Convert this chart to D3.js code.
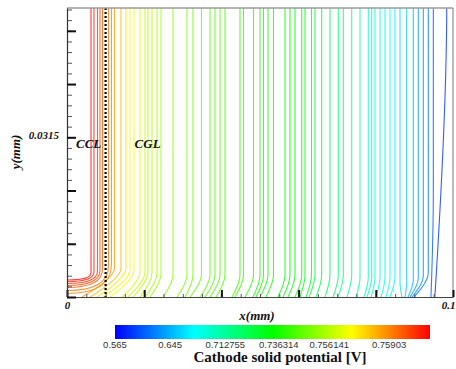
<!DOCTYPE html>
<html><head><meta charset="utf-8">
<script src="https://cdn.jsdelivr.net/npm/d3@7"></script>
<style>body{margin:0;background:#fff}svg{display:block}</style>
</head><body><svg id="c" width="456" height="369"></svg>
<script>
// ---------- data ----------
const xMajorTicks = [0, 0.02, 0.04, 0.06, 0.08, 0.1];
const xTickLabels = ["0", "", "", "", "", "0.1"];
const yMajorTicks = [0, 0.0105, 0.021, 0.0315, 0.042, 0.0525];
const yTickLabels = ["", "", "", "0.0315", "", ""];
const layerBoundary = 0.01;
const layerNames = ["CCL", "CGL"];
const legendValues = [0.565, 0.645, 0.712755, 0.736314, 0.756141, 0.75903];
const legendTitle = "Cathode solid potential [V]";
const xTitle = "x(mm)";
const yTitle = "y(mm)";

// contour lines: x at top (mm), level (V), foot x (mm), foot y (mm), bend height (mm)
const lineX = [0.00622,0.00699,0.00790,0.00855,0.00920,0.01075,0.01153,0.01231,0.01399,0.01528,
  0.01632,0.01736,0.01891,0.02021,0.02098,0.02202,0.02332,0.02435,0.02746,0.03109,
  0.03264,0.03484,0.03705,0.03834,0.03964,0.04093,0.04482,0.04573,0.04832,0.05000,
  0.05091,0.05207,0.05350,0.05648,0.05777,0.05907,0.06080,0.06166,0.06334,0.06425,
  0.06598,0.06813,0.07028,0.07158,0.07376,0.07591,0.07806,0.07894,0.07979,0.08109,
  0.08238,0.08368,0.08497,0.08627,0.08801,0.08972,0.09101,0.09231,0.09360,0.09490,0.09837];
const lineLevel = [0.76101,0.76055,0.76025,0.75994,0.75964,0.75933,0.75903,0.75873,0.75827,0.75766,
  0.75736,0.75705,0.75660,0.75629,0.75614,0.75490,0.75366,0.75242,0.74995,0.74871,
  0.74747,0.74623,0.74499,0.74375,0.74313,0.74251,0.74065,0.74003,0.73879,0.73755,
  0.73693,0.73631,0.73562,0.73493,0.73424,0.73354,0.73216,0.73077,0.72939,0.72661,
  0.72384,0.72107,0.71830,0.71691,0.71414,0.70888,0.70114,0.69727,0.69340,0.68565,
  0.68178,0.67404,0.67017,0.66242,0.65468,0.64694,0.63814,0.62900,0.61986,0.60614,0.58786];
const footX = [0,0,0,0,0,0,0,0.00389,0.00596,0.00777,
  0.00933,0.01114,0.01425,0.01580,0.01710,0.01891,0.02021,0.02150,0.02487,0.02850,
  0.03057,0.03187,0.03446,0.03575,0.03705,0.03860,0.04275,0.04352,0.04611,0.04819,
  0.04896,0.05000,0.05155,0.05466,0.05596,0.05725,0.05907,0.06036,0.06192,0.06269,
  0.06451,0.06684,0.06891,0.07021,0.07254,0.07487,0.07694,0.07772,0.07876,0.08005,
  0.08135,0.08264,0.08368,0.08679,0.08756,0.08834,0.08886,0.08938,0.08990,0.09430,0.09530];
const footY = [0.00335,0.00302,0.00266,0.00227,0.00187,0.00128,0.00069,0,0,0,
  0,0,0,0,0,0,0,0,0,0, 0,0,0,0,0,0,0,0,0,0, 0,0,0,0,0,0,0,0,0,0,
  0,0,0,0,0,0,0,0,0,0, 0,0,0,0,0,0,0,0,0,0,0];
const bendY = [0.00473,0.00493,0.00513,0.00533,0.00552,0.00611,0.00651,0.00572,0.00572,0.00572,
  0.00533,0.00533,0.00493,0.00493,0.00493,0.00473,0.00473,0.00454,0.00434,0.00434,
  0.00434,0.00434,0.00434,0.00434,0.00434,0.00434,0.00434,0.00434,0.00434,0.00434,
  0.00434,0.00434,0.00434,0.00434,0.00434,0.00434,0.00434,0.00434,0.00434,0.00434,
  0.00434,0.00434,0.00434,0.00434,0.00434,0.00394,0.00394,0.00394,0.00394,0.00394,
  0.00394,0.00394,0.00394,0.00296,0.00296,0.00335,0.00375,0.00414,0.00473,0.02000,0.05700];

// ---------- layout ----------
const L = 67, R = 453, T = 8, B = 297;
const xMax = 0.1, yMax = 0.057;
const svg = d3.select("#c");
const x = d3.scaleLinear().domain([0, xMax]).range([L, R]);
const y = d3.scaleLinear().domain([0, yMax]).range([B, T]);

const tStops = [0, 0.175, 0.35, 0.52, 0.68, 0.87];
const levelToT = d3.scaleLinear().domain(legendValues).range(tStops);
const rainbow = d3.scaleLinear().domain([0, 0.25, 0.5, 0.75, 1])
  .range(["#0000ff", "#00ffff", "#00ff00", "#ffff00", "#ff0000"]);
const colorOf = v => rainbow(Math.max(0, Math.min(1, levelToT(v))));

const serif = "'Liberation Serif','Times New Roman',serif";
const defs = svg.append("defs");
defs.append("clipPath").attr("id", "plotclip")
  .append("rect").attr("x", L).attr("y", T).attr("width", R - L).attr("height", B - T);

// contour lines
const g = svg.append("g").attr("clip-path", "url(#plotclip)");
g.selectAll("path.cl").data(d3.range(lineX.length)).join("path")
  .attr("class", "cl")
  .attr("fill", "none")
  .attr("stroke", i => colorOf(lineLevel[i]))
  .attr("stroke-width", 1.1)
  .attr("stroke-opacity", 0.8)
  .attr("d", i => {
    const x0 = x(lineX[i]), yt = y(yMax), yb = y(bendY[i]);
    const fx = x(footX[i]), fy = y(footY[i]);
    const p = d3.path();
    p.moveTo(x0, yt);
    p.lineTo(x0, yb);
    if (footX[i] === 0) p.quadraticCurveTo(x0, fy, fx, fy);
    else p.quadraticCurveTo(x0, yb + 0.35 * (fy - yb), fx, fy);
    return p.toString();
  });

// layer boundary (dotted)
svg.append("line")
  .attr("x1", x(layerBoundary)).attr("x2", x(layerBoundary))
  .attr("y1", y(yMax)).attr("y2", y(0))
  .attr("stroke", "#000").attr("stroke-width", 2.2).attr("stroke-dasharray", "2,2");

// frame
svg.append("line").attr("x1", L).attr("x2", R).attr("y1", T).attr("y2", T)
  .attr("stroke", "#9a9a9a").attr("stroke-width", 1.6);
svg.append("line").attr("x1", R).attr("x2", R).attr("y1", T).attr("y2", B)
  .attr("stroke", "#777").attr("stroke-width", 1);

// x axis
const xMinor = d3.range(0, xMax + 1e-9, 0.005);
svg.append("g").attr("transform", `translate(0,${B})`)
  .call(d3.axisBottom(x).tickValues(xMinor).tickSize(-3).tickFormat(""))
  .call(a => a.select(".domain").remove())
  .call(a => a.selectAll("line").attr("stroke", "#555").attr("stroke-width", 1));
const xa = svg.append("g").attr("transform", `translate(0,${B})`)
  .call(d3.axisBottom(x).tickValues(xMajorTicks).tickSizeInner(-7).tickSizeOuter(0).tickPadding(4)
    .tickFormat((d, i) => xTickLabels[i]));
xa.select(".domain").attr("stroke", "#444").attr("stroke-width", 1.2);
xa.selectAll(".tick line").attr("stroke", "#111").attr("stroke-width", 2);
xa.selectAll("text").attr("font-family", serif).attr("font-weight", "bold")
  .attr("font-style", "italic").attr("font-size", 11).attr("fill", "#111")
  .filter(d => d === xMax).attr("text-anchor", "end").attr("dx", 2);

// y axis
const yMinor = d3.range(0, yMax, 0.0021);
svg.append("g").attr("transform", `translate(${L},0)`)
  .call(d3.axisLeft(y).tickValues(yMinor).tickSize(-5).tickFormat(""))
  .call(a => a.select(".domain").remove())
  .call(a => a.selectAll("line").attr("stroke", "#555").attr("stroke-width", 1));
const ya = svg.append("g").attr("transform", `translate(${L},0)`)
  .call(d3.axisLeft(y).tickValues(yMajorTicks).tickSizeInner(-9).tickSizeOuter(0).tickPadding(8)
    .tickFormat((d, i) => yTickLabels[i]));
ya.select(".domain").attr("stroke", "#333").attr("stroke-width", 1.2);
ya.selectAll(".tick line").attr("stroke", "#111").attr("stroke-width", 2);
ya.selectAll("text").attr("font-family", serif).attr("font-weight", "bold")
  .attr("font-style", "italic").attr("font-size", 11).attr("fill", "#111").attr("dy", "0.1em");

// axis titles
svg.append("text").attr("x", (L + R) / 2 - 3).attr("y", 320)
  .attr("text-anchor", "middle").attr("font-family", serif).attr("font-weight", "bold")
  .attr("font-style", "italic").attr("font-size", 13).attr("fill", "#111").text(xTitle);
svg.append("text").attr("transform", "translate(20,152) rotate(-90)")
  .attr("text-anchor", "middle").attr("font-family", serif).attr("font-weight", "bold")
  .attr("font-style", "italic").attr("font-size", 13).attr("fill", "#111").text(yTitle);

// layer names
svg.append("text").attr("x", x(0) + 9).attr("y", 148).attr("font-family", serif)
  .attr("font-weight", "bold").attr("font-style", "italic").attr("font-size", 13)
  .attr("fill", "#111").text(layerNames[0]);
svg.append("text").attr("x", x(layerBoundary) + 29).attr("y", 148).attr("font-family", serif)
  .attr("font-weight", "bold").attr("font-style", "italic").attr("font-size", 13)
  .attr("fill", "#111").text(layerNames[1]);

// colour legend
const bx0 = 115, bx1 = 430, by = 325, bh = 14;
const grad = defs.append("linearGradient").attr("id", "rb");
d3.range(0, 1.0001, 0.05).forEach(t => grad.append("stop")
  .attr("offset", t).attr("stop-color", rainbow(t)));
svg.append("rect").attr("x", bx0).attr("y", by).attr("width", bx1 - bx0).attr("height", bh)
  .attr("fill", "url(#rb)");
const legendPos = d3.scaleLinear().domain(legendValues).range(tStops.map(t => bx0 + t * (bx1 - bx0)));
svg.append("g").selectAll("text").data(legendValues).join("text")
  .attr("x", d => legendPos(d)).attr("y", 347.5)
  .attr("text-anchor", "middle").attr("font-family", "'Liberation Sans',Arial,sans-serif")
  .attr("font-size", 9.5).attr("fill", "#333").text(d => d);
svg.append("text").attr("x", 280).attr("y", 361.5).attr("text-anchor", "middle")
  .attr("font-family", serif).attr("font-weight", "bold").attr("font-size", 15)
  .attr("fill", "#111").text(legendTitle);
</script>
</body></html>
